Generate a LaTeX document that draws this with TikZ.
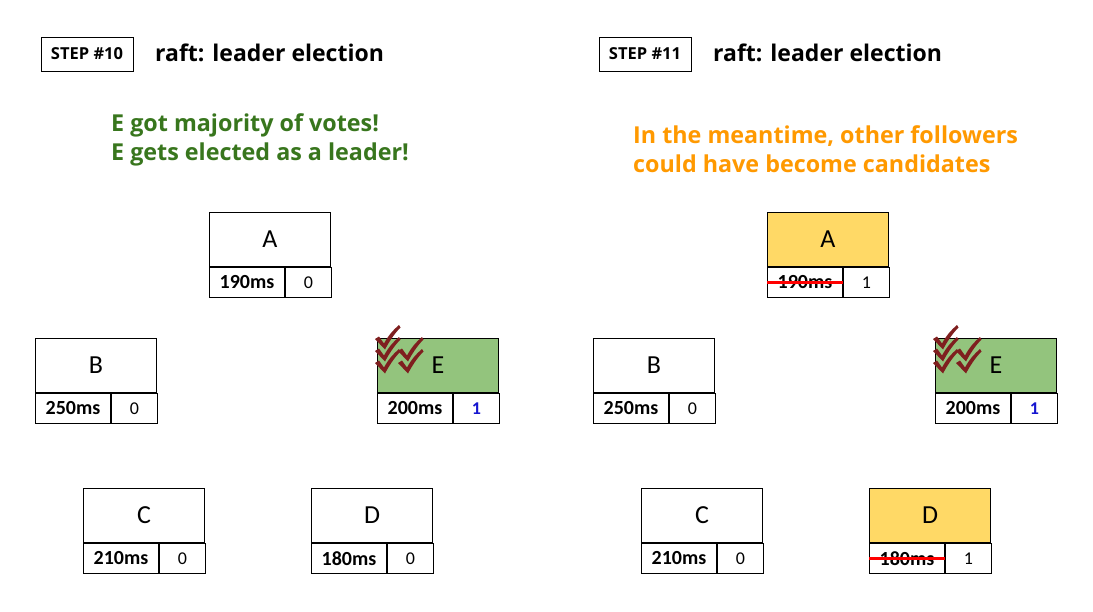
\documentclass[tikz,border=0pt]{standalone}
\usepackage{fontspec}
\setmainfont{Carlito}
\newfontfamily\osans{Open Sans}
\definecolor{hgreen}{HTML}{38761D}
\definecolor{horange}{HTML}{FF9900}
\definecolor{lgreen}{HTML}{93C47D}
\definecolor{lyellow}{HTML}{FFD966}
\definecolor{tickred}{HTML}{7F1F1F}
\definecolor{termblue}{HTML}{1515D0}
\newcommand{\srv}[7]{%
  \node[servtop, fill=#7, anchor=north west] (#1) at (#2,#3) {#4};
  \node[servms, anchor=north west] (#1ms) at (#1.south west) {#5};
  \node[servterm, anchor=north west] (#1t) at (#1ms.north east) {#6};
}
\tikzset{
  cellbox/.style={draw, line width=1pt, inner sep=0pt},
  servtop/.style={cellbox, minimum width=121pt, minimum height=54pt, font=\fontsize{26}{26}\selectfont},
  servms/.style={cellbox, minimum width=75pt, minimum height=30pt, font=\bfseries\fontsize{20}{20}\selectfont},
  servterm/.style={cellbox, minimum width=46pt, minimum height=30pt, font=\fontsize{18}{18}\selectfont},
  stepbox/.style={draw, line width=1pt, minimum width=92pt, minimum height=34pt, inner sep=0pt, font=\osans\bfseries\fontsize{16.5}{16.5}\selectfont},
  titletext/.style={anchor=west, inner sep=0pt, font=\osans\bfseries\fontsize{23}{23}\selectfont},
  msgtext/.style={anchor=north west, inner sep=0pt, align=left, font=\osans\bfseries\fontsize{23.3}{29}\selectfont},
  strike/.style={red, line width=2.5pt},
  tick/.pic={\fill[tickred] (-9,-8) -- (-5,-10.5) -- (0,-3.5) .. controls (4,-11) and (9,-17) .. (15,-22) -- (16.5,-19.5) .. controls (10,-13) and (5,-5) .. (1,2.5) -- cycle;}
}
\begin{document}
\begin{tikzpicture}[x=1pt,y=-1pt]
\useasboundingbox[fill=white] (0,0) rectangle (1093,611);
% ---------- left panel ----------
\node[stepbox] (s10) at (87,54) {STEP \#10};
\node[titletext] (t10) at (155,53) {raft: leader election};
\node[msgtext, text=hgreen] (m10) at (111,113) {E got majority of votes!\\E gets elected as a leader!};
\srv{A10}{209}{212}{A}{190ms}{0}{white}
\srv{B10}{35}{338}{B}{250ms}{0}{white}
\srv{E10}{377}{338}{E}{200ms}{\textcolor{termblue}{\bfseries 1}}{lgreen}
\srv{C10}{83}{488}{C}{210ms}{0}{white}
\srv{D10}{311}{488}{D}{180ms}{0}{white}
\pic at (384,347) {tick};
\pic at (384,359) {tick};
\pic at (384,371) {tick};
\pic at (407,359) {tick};
\pic at (407,371) {tick};
% ---------- right panel ----------
\node[stepbox] (s11) at (645,54) {STEP \#11};
\node[titletext] (t11) at (713,53) {raft: leader election};
\node[msgtext, text=horange] (m11) at (633,125) {In the meantime, other followers\\could have become candidates};
\srv{A11}{767}{212}{A}{190ms}{1}{lyellow}
\srv{B11}{593}{338}{B}{250ms}{0}{white}
\srv{E11}{935}{338}{E}{200ms}{\textcolor{termblue}{\bfseries 1}}{lgreen}
\srv{C11}{641}{488}{C}{210ms}{0}{white}
\srv{D11}{869}{488}{D}{180ms}{1}{lyellow}
\draw[strike] (A11ms.west) -- (A11ms.east);
\draw[strike] (D11ms.west) -- (D11ms.east);
\pic at (942,347) {tick};
\pic at (942,359) {tick};
\pic at (942,371) {tick};
\pic at (965,359) {tick};
\pic at (965,371) {tick};
\end{tikzpicture}
\end{document}
